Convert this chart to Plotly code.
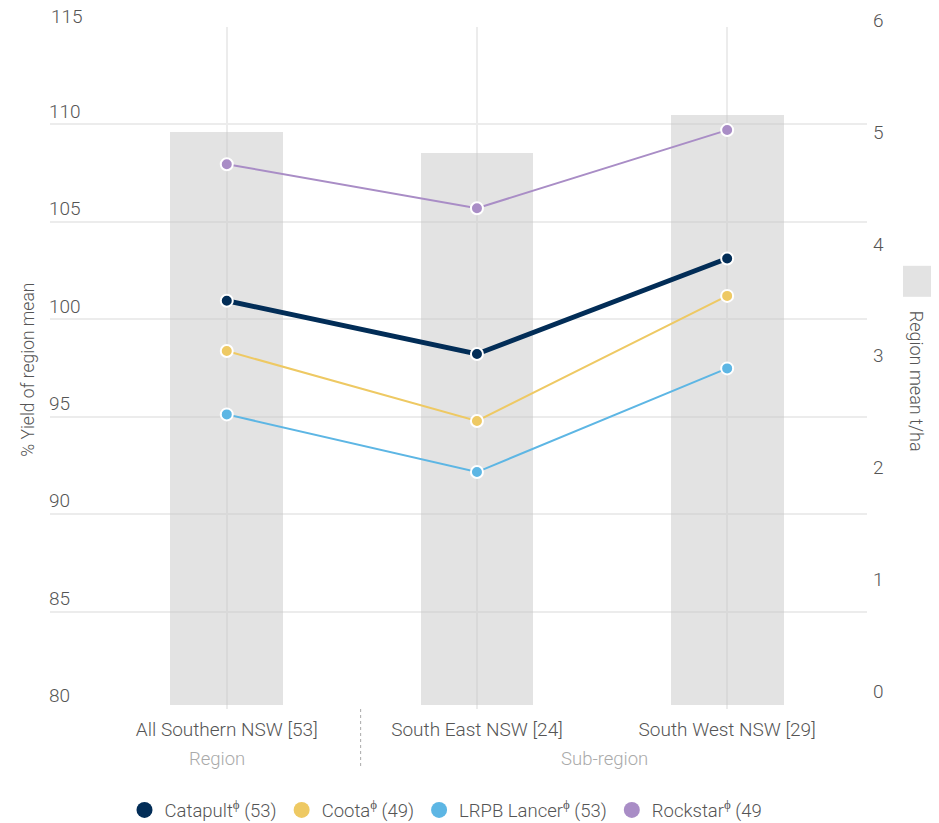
import plotly.graph_objects as go

categories = ["All Southern NSW [53]", "South East NSW [24]", "South West NSW [29]"]
groups = ["Region", "Sub-region"]
region_mean = [5.12, 4.93, 5.27]
series_names = ["Catapult<sup>ϕ</sup> (53)", "Coota<sup>ϕ</sup> (49)",
                "LRPB Lancer<sup>ϕ</sup> (53)", "Rockstar<sup>ϕ</sup> (49"]
catapult = [100.95, 98.22, 103.12]
coota = [98.37, 94.78, 101.2]
lancer = [95.12, 92.16, 97.48]
rockstar = [107.96, 105.70, 109.71]
left_ticks = [80, 85, 90, 95, 100, 105, 110, 115]
right_ticks = [0, 1, 2, 3, 4, 5, 6]

colors = ["#022d57", "#eec963", "#5db6e4", "#a98dc6"]
widths = [5, 2, 2, 2]
series = [catapult, coota, lancer, rockstar]

FONT = "Roboto"
TXT = "#555555"
xs = list(range(len(categories)))

OFF = 8  # page body margin
W, H = 939 - OFF, 823 - OFF
L, R, T, B = 50 - OFF, 867 - OFF, 27 - OFF, 709.5 - OFF
PW, PH = R - L, B - T


def px(sx):
    return (sx - OFF - L) / PW


def py(sy):
    return (B - (sy - OFF)) / PH


fig = go.Figure()
fig.add_trace(go.Bar(x=xs, y=region_mean, yaxis="y", width=0.451,
                     marker=dict(color="rgba(195,195,195,0.47)", line=dict(width=0)),
                     showlegend=False, hoverinfo="skip"))
for name, vals, c, w in zip(series_names, series, colors, widths):
    fig.add_trace(go.Scatter(x=xs, y=vals, yaxis="y2", mode="lines+markers", name=name,
                             line=dict(color=c, width=w),
                             marker=dict(color=c, size=12, line=dict(color="white", width=2)),
                             showlegend=False))
for name, c in zip(series_names, colors):
    fig.add_trace(go.Scatter(x=[None], y=[None], yaxis="y2", mode="markers", name=name,
                             marker=dict(color=c, size=19), showlegend=True))

fig.update_layout(
    width=W, height=H,
    margin=dict(l=L, r=W - R, t=T, b=H - B, autoexpand=False),
    paper_bgcolor="white", plot_bgcolor="white",
    font=dict(family=FONT, size=18, color=TXT, weight=300),
    bargap=0,
    xaxis=dict(range=[-0.7066, 2.559], tickvals=xs, ticktext=categories,
               showgrid=True, gridcolor="#ececec", gridwidth=1.5, zeroline=False,
               showline=False, ticks="", tickfont=dict(size=19, color=TXT),
               ticklabelstandoff=7, automargin=False),
    yaxis=dict(range=[-0.04, 6.054], tickvals=right_ticks, side="right",
               showgrid=False, zeroline=False, ticks="", tickfont=dict(size=19, color=TXT),
               ticklabelshift=-13, ticklabelstandoff=5, automargin=False),
    yaxis2=dict(range=[80, 115], tickvals=left_ticks, overlaying="y", side="left",
                showgrid=True, gridcolor="#ececec", gridwidth=1.5, zeroline=False,
                ticklabelposition="inside top", ticklabelstandoff=-4,
                tickfont=dict(size=19, color=TXT), ticks="", automargin=False),
    legend=dict(orientation="h", x=px(446), xanchor="center", y=py(811), yanchor="middle",
                font=dict(size=18.5, color=TXT), itemclick=False),
    showlegend=True,
)

# top tick label (inside labels at the plot edge are hidden by plotly)
fig.add_annotation(x=0, xref="paper", y=115, yref="y2", text="115", showarrow=False,
                   xanchor="left", yanchor="bottom", xshift=-1, yshift=-3,
                   font=dict(size=19, color=TXT))
fig.add_annotation(x=px(28), xref="paper", y=py(370), yref="paper",
                   text="% Yield of region mean", textangle=-90, showarrow=False,
                   font=dict(size=17.5, color=TXT), xanchor="center", yanchor="middle")

fig.add_shape(type="line", xref="x", yref="paper", x0=0.535, x1=0.535, y0=0, y1=py(767),
              line=dict(color="#aaaaaa", width=1, dash="dot"))
fig.add_annotation(x=-0.04, xref="x", y=py(760), yref="paper", text=groups[0],
                   showarrow=False, font=dict(size=18.5, color="#aaaaaa"), yanchor="middle")
fig.add_annotation(x=1.51, xref="x", y=py(760), yref="paper", text=groups[1],
                   showarrow=False, font=dict(size=18.5, color="#aaaaaa"), yanchor="middle")
# right axis title with its legend swatch
fig.add_shape(type="rect", xref="paper", yref="paper",
              x0=px(903), x1=px(934), y0=py(266), y1=py(297),
              fillcolor="#e3e3e3", line=dict(width=0))
fig.add_annotation(x=px(916), xref="paper", y=py(381), yref="paper",
                   text="Region mean t/ha", textangle=90, showarrow=False,
                   font=dict(size=18, color=TXT), xanchor="center", yanchor="middle")

fig.write_html("out.html")
